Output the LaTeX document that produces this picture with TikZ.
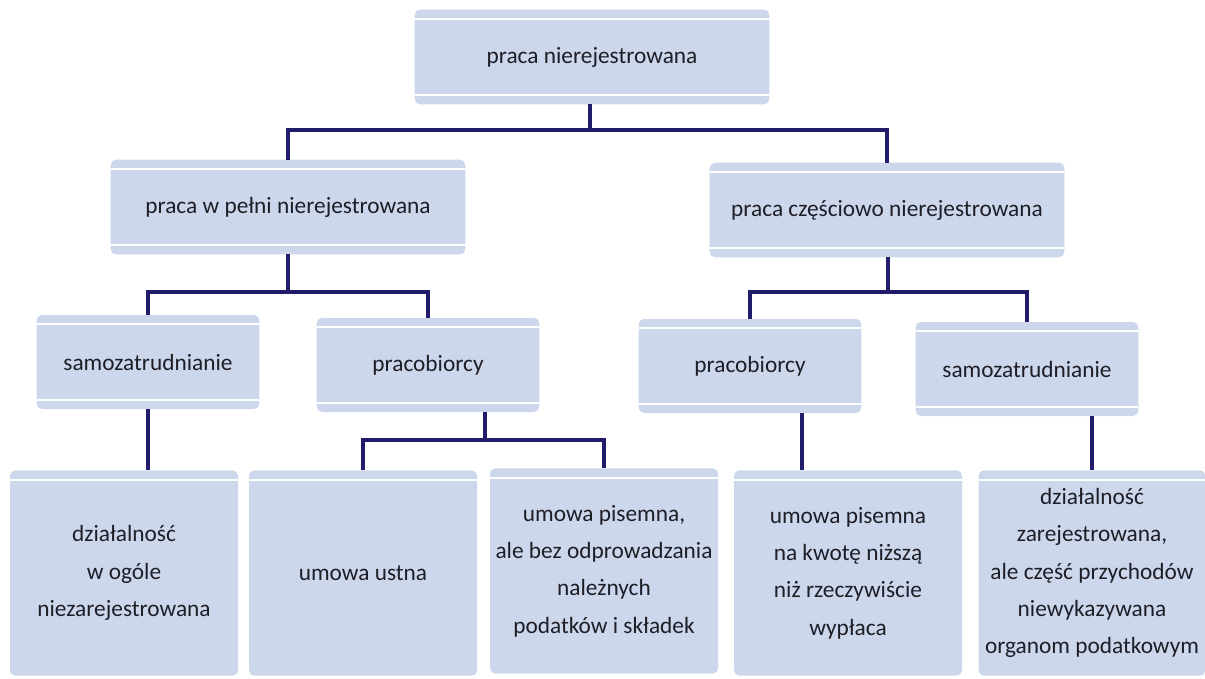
\documentclass[tikz,border=0pt]{standalone}
\usepackage{fontspec}
\setmainfont{Carlito}
\usepackage{xcolor}
\usepackage{tikz}
\usetikzlibrary{positioning,calc}
\definecolor{boxfill}{RGB}{205,215,236}
\definecolor{navy}{RGB}{33,28,108}
\definecolor{txt}{RGB}{30,30,38}

\begin{document}
\begin{tikzpicture}[
    x=0.75pt, y=-0.75pt,
    box/.style={rectangle, fill=boxfill, rounded corners=4pt, inner sep=2pt, outer sep=0pt,
        align=center, text=txt, font=\fontsize{17.5}{28}\selectfont,
        path picture={
            \draw[white, line width=1.4pt] ([yshift=-7pt]path picture bounding box.north west) -- ([yshift=-7pt]path picture bounding box.north east);
        }},
    stripe/.style={path picture={
            \draw[white, line width=1.4pt] ([yshift=-7pt]path picture bounding box.north west) -- ([yshift=-7pt]path picture bounding box.north east);
            \draw[white, line width=1.4pt] ([yshift=7pt]path picture bounding box.south west) -- ([yshift=7pt]path picture bounding box.south east);
        }},
    wide/.style={box, stripe, minimum width=266pt, minimum height=71pt},
    mid/.style={box, stripe, minimum width=167pt, minimum height=70.5pt},
    leaf/.style={box, minimum width=171pt, minimum height=154pt},
    conn/.style={-, navy, line width=3pt}
]
    \useasboundingbox (0,0) rectangle (1205,678);

    % Top level
    \node[wide] (top) at (592,57) {praca nierejestrowana};

    % Second level
    \node[wide] (full) at (288,207) {praca w pełni nierejestrowana};
    \node[wide] (part) at (887,210) {praca częściowo nierejestrowana};

    % Third level
    \node[mid] (samoL) at (148,362) {samozatrudnianie};
    \node[mid] (pracL) at (428,365) {pracobiorcy};
    \node[mid] (pracR) at (750,366) {pracobiorcy};
    \node[mid] (samoR) at (1027,369) {samozatrudnianie};

    % Leaves
    \node[leaf] (ogole) at (124,573) {działalność\\w ogóle\\niezarejestrowana};
    \node[leaf] (ustna) at (363,573) {umowa ustna};
    \node[leaf] (bez) at (604,571) {umowa pisemna,\\ale bez odprowadzania\\należnych\\podatków i składek};
    \node[leaf] (kwota) at (848,573) {umowa pisemna\\na kwotę niższą\\niż rzeczywiście\\wypłaca};
    \node[leaf, minimum width=170pt] (przych) at (1092,573) {działalność\\zarejestrowana,\\ale część przychodów\\niewykazywana\\organom podatkowym};

    % Junctions
    \coordinate (bus1) at (590,130);
    \coordinate (bus2) at (288,292);
    \coordinate (bus3) at (888,292);
    \coordinate (bus4) at (485,440);
    \coordinate (drop4) at (802,440);

    % Connectors
    \draw[conn] (top.south -| bus1) -- (bus1);
    \draw[conn] (full.north) |- (bus1) -| (part.north);
    \draw[conn] (full.south) -- (bus2);
    \draw[conn] (samoL.north) |- (bus2) -| (pracL.north);
    \draw[conn] (part.south -| bus3) -- (bus3);
    \draw[conn] (pracR.north) |- (bus3) -| (samoR.north);
    \draw[conn] (samoL.south) -- (samoL.south |- ogole.north);
    \draw[conn] (pracL.south -| bus4) -- (bus4);
    \draw[conn] (ustna.north) |- (bus4) -| (bez.north);
    \draw[conn] (pracR.south -| drop4) -- (kwota.north -| drop4);
    \draw[conn] (samoR.south -| przych.north) -- (przych.north);
\end{tikzpicture}
\end{document}
